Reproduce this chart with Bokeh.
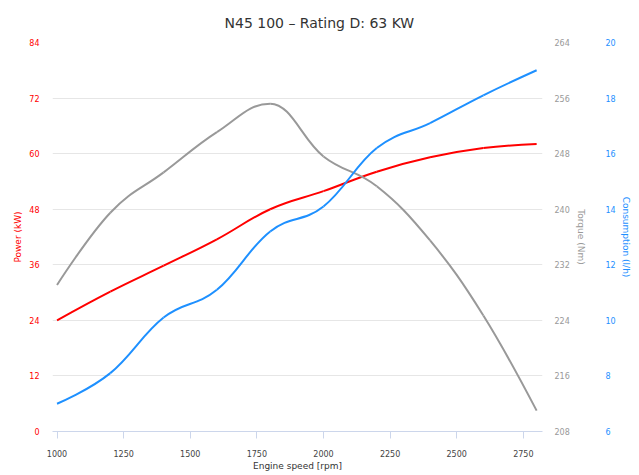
from bokeh.plotting import figure
from bokeh.models import Range1d, LinearAxis, FixedTicker, Title
from bokeh.embed import file_html
from bokeh.resources import INLINE

# ---------------- data ----------------
rpm = [1000, 1200, 1400, 1600, 1800, 2000, 2200, 2400, 2600, 2800]
power_kw = [24.0, 30.2, 35.8, 41.5, 48.0, 51.9, 56.1, 59.2, 61.2, 62.1]
torque_nm = [229.1, 239.5, 245.3, 251.1, 255.2, 247.6, 243.3, 235.5, 224.7, 211.0]
consumption_lh = [7.0, 8.1, 10.1, 11.1, 13.2, 14.1, 16.2, 17.1, 18.1, 19.0]

x_ticks = [1000, 1250, 1500, 1750, 2000, 2250, 2500, 2750]
power_ticks = [0, 12, 24, 36, 48, 60, 72, 84]
torque_ticks = [208, 216, 224, 232, 240, 248, 256, 264]
consumption_ticks = [6, 8, 10, 12, 14, 16, 18, 20]

title_text = "N45 100 \u2013 Rating D: 63 KW"
x_title = "Engine speed [rpm]"
power_title = "Power (kW)"
torque_title = "Torque (Nm)"
consumption_title = "Consumption (l/h)"

RED = "#ff0000"
GRAY = "#999999"
BLUE = "#1e90ff"
FONT = "DejaVu Sans"


def spline_segments(xs, ys, smoothing=1.5):
    """Highcharts-style spline: control points for cubic Bezier segments."""
    n = len(xs)
    lc = [None] * n
    rc = [None] * n
    denom = smoothing + 1
    for i in range(1, n - 1):
        px, py = xs[i], ys[i]
        lx, ly = xs[i - 1], ys[i - 1]
        nx, ny = xs[i + 1], ys[i + 1]
        lcx = (smoothing * px + lx) / denom
        lcy = (smoothing * py + ly) / denom
        rcx = (smoothing * px + nx) / denom
        rcy = (smoothing * py + ny) / denom
        if rcx != lcx:
            corr = ((rcy - lcy) * (rcx - px)) / (rcx - lcx) + py - rcy
            lcy += corr
            rcy += corr
        if lcy > ly and lcy > py:
            lcy = max(ly, py)
            rcy = 2 * py - lcy
        elif lcy < ly and lcy < py:
            lcy = min(ly, py)
            rcy = 2 * py - lcy
        if rcy > ny and rcy > py:
            rcy = max(ny, py)
            lcy = 2 * py - rcy
        elif rcy < ny and rcy < py:
            rcy = min(ny, py)
            lcy = 2 * py - rcy
        lc[i] = (lcx, lcy)
        rc[i] = (rcx, rcy)
    seg = dict(x0=[], y0=[], x1=[], y1=[], cx0=[], cy0=[], cx1=[], cy1=[])
    for i in range(1, n):
        a = rc[i - 1] if rc[i - 1] is not None else (xs[i - 1], ys[i - 1])
        b = lc[i] if lc[i] is not None else (xs[i], ys[i])
        seg["x0"].append(xs[i - 1]); seg["y0"].append(ys[i - 1])
        seg["x1"].append(xs[i]); seg["y1"].append(ys[i])
        seg["cx0"].append(a[0]); seg["cy0"].append(a[1])
        seg["cx1"].append(b[0]); seg["cy1"].append(b[1])
    return seg


p = figure(width=639, height=475, output_backend="svg", toolbar_location=None,
           x_range=Range1d(983, 2822), y_range=Range1d(0, 84),
           min_border_left=52, min_border_right=97, min_border_top=42,
           min_border_bottom=44)
p.extra_y_ranges = {"torque": Range1d(208, 264), "cons": Range1d(6, 20)}
p.outline_line_color = None
p.background_fill_color = "white"
p.border_fill_color = "white"

# title
p.title = Title(text=title_text, align="left", offset=172, standoff=23,
                text_font=FONT, text_font_size="14px", text_font_style="normal",
                text_color="#333333")

# grid
p.xgrid.visible = False
p.ygrid.grid_line_color = "#e6e6e6"
p.ygrid.grid_line_width = 1

# x axis
xa = p.xaxis[0]
xa.ticker = FixedTicker(ticks=x_ticks)
xa.axis_label = x_title
xa.axis_line_color = "#ccd6eb"
xa.major_tick_line_color = "#ccd6eb"
xa.major_tick_out = 7
xa.major_tick_in = 0
xa.minor_tick_line_color = None
xa.major_label_standoff = 11
xa.major_label_text_font = FONT
xa.major_label_text_font_size = "8px"
xa.major_label_text_color = "#444444"
xa.axis_label_standoff = 1
xa.axis_label_text_font = FONT
xa.axis_label_text_font_size = "9px"
xa.axis_label_text_font_style = "normal"
xa.axis_label_text_color = "#333333"


def style_y(ax, ticks, label, color, standoff, label_standoff):
    ax.ticker = FixedTicker(ticks=ticks)
    ax.axis_label = label
    ax.axis_line_color = None
    ax.major_tick_line_color = None
    ax.minor_tick_line_color = None
    ax.major_tick_out = 0
    ax.major_tick_in = 0
    ax.major_label_standoff = standoff
    ax.major_label_text_font = FONT
    ax.major_label_text_font_size = "8px"
    ax.major_label_text_color = color
    ax.axis_label_standoff = label_standoff
    ax.axis_label_text_font = FONT
    ax.axis_label_text_font_size = "9px"
    ax.axis_label_text_font_style = "normal"
    ax.axis_label_text_color = color


style_y(p.yaxis[0], power_ticks, power_title, RED, 13, 3)

t_ax = LinearAxis(y_range_name="torque")
style_y(t_ax, torque_ticks, torque_title, GRAY, 12, 3)
p.add_layout(t_ax, "right")

c_ax = LinearAxis(y_range_name="cons")
style_y(c_ax, consumption_ticks, consumption_title, BLUE, 17, 2)
p.add_layout(c_ax, "right")

# series
for ys, color, rng in [(power_kw, RED, "default"),
                       (torque_nm, GRAY, "torque"),
                       (consumption_lh, BLUE, "cons")]:
    s = spline_segments(rpm, ys)
    p.bezier(x0=s["x0"], y0=s["y0"], x1=s["x1"], y1=s["y1"],
             cx0=s["cx0"], cy0=s["cy0"], cx1=s["cx1"], cy1=s["cy1"],
             line_color=color, line_width=2, y_range_name=rng)

open("out.html", "w").write(file_html(p, INLINE))
